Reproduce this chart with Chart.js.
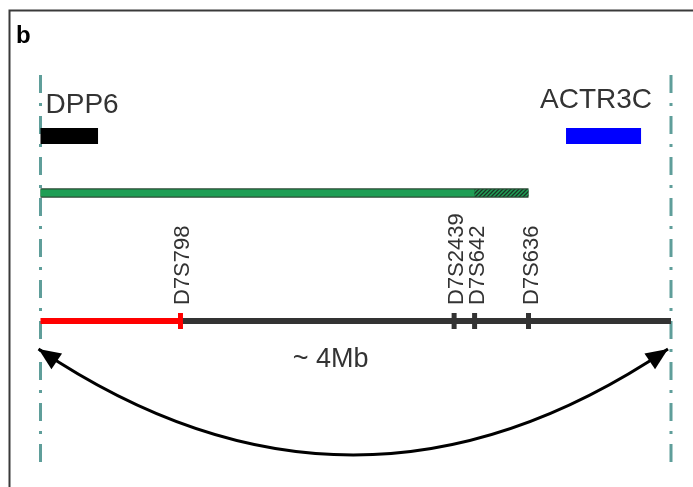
<!DOCTYPE html>
<html lang="en">
<head>
<meta charset="UTF-8">
<title>DPP6 - ACTR3C region</title>
<script src="https://cdn.jsdelivr.net/npm/chart.js"></script>
<style>
  html, body { margin: 0; padding: 0; background: #fff; }
  canvas { display: block; }
</style>
</head>
<body>
<canvas id="map" width="693" height="487"></canvas>
<script>
// positions in Mb along the region (0 = DPP6 side, 4 = ACTR3C side)
const regionStart = 0;
const regionEnd = 4;
const spanLabel = '~ 4Mb';
const spanLabelPos = 1.84;

const geneNames = ['DPP6', 'ACTR3C'];
const geneStart = [0, 3.334];
const geneEnd = [0.365, 3.81];

const markerNames = ['D7S798', 'D7S2439', 'D7S642', 'D7S636'];
const markerPos = [0.888, 2.624, 2.754, 3.096];

// deletion: solid up to D7S642, uncertain (hatched) up to D7S636
const delStart = regionStart;
const delSolidEnd = markerPos[2];
const delEnd = markerPos[3];
// red part of the map ends at D7S798
const redEnd = markerPos[0];

// rows, in canvas px from the top
const ROW = { gene: 136, del: 193, map: 321, arrow: 349, arrowLow: 455, guideTop: 75, guideBottom: 463 };

const FONT = '"Liberation Sans", Arial, Helvetica, sans-serif';
const red = '#ff0000';
const dark = '#333333';
const green = '#1e9e55';
const teal = '#5f9e9a';
const geneColors = ['#000000', '#0000ff'];

function hatch() {
  const c = document.createElement('canvas');
  c.width = 4; c.height = 4;
  const g = c.getContext('2d');
  g.fillStyle = green;
  g.fillRect(0, 0, 4, 4);
  g.strokeStyle = '#1b3324';
  g.lineWidth = 1.3;
  g.beginPath();
  g.moveTo(0, 4); g.lineTo(4, 0);
  g.moveTo(-1, 1); g.lineTo(1, -1);
  g.moveTo(3, 5); g.lineTo(5, 3);
  g.stroke();
  return g.createPattern(c, 'repeat');
}

const seg = (x0, x1, y) => [{ x: x0, y: y }, { x: x1, y: y }];
const line = (data, color, width, order, extra) => Object.assign({
  data: data, borderColor: color, borderWidth: width, showLine: true,
  pointRadius: 0, fill: false, clip: false, order: order, borderCapStyle: 'butt'
}, extra || {});

const datasets = [
  // marker ticks on the map line
  {
    data: markerPos.map(p => ({ x: p, y: ROW.map })),
    showLine: false, pointStyle: 'line', pointRotation: 90, pointRadius: 8,
    pointBorderWidth: 5, pointBorderColor: markerPos.map((p, i) => i === 0 ? red : dark),
    clip: false, order: 0
  },
  line(seg(regionStart, redEnd, ROW.map), red, 6, 1),
  line(seg(redEnd, regionEnd, ROW.map), dark, 6, 2),
  line(seg(delSolidEnd, delEnd, ROW.del), hatch(), 7, 3),
  line(seg(delStart, delSolidEnd, ROW.del), green, 7, 3),
  line(seg(delStart, delEnd, ROW.del), '#2a4a35', 9.5, 4),
  line(seg(geneStart[0], geneEnd[0], ROW.gene), geneColors[0], 16, 5),
  line(seg(geneStart[1], geneEnd[1], ROW.gene), geneColors[1], 16, 5),
  line([{ x: regionStart, y: ROW.guideTop }, { x: regionStart, y: ROW.guideBottom }], teal, 3, 6, { borderDash: [18, 10, 3, 10] }),
  line([{ x: regionEnd, y: ROW.guideTop }, { x: regionEnd, y: ROW.guideBottom }], teal, 3, 6, { borderDash: [18, 10, 3, 10] })
];

const overlay = {
  id: 'overlay',
  afterDatasetsDraw(chart) {
    const ctx = chart.ctx, xs = chart.scales.x, ys = chart.scales.y;
    ctx.save();

    // panel frame
    ctx.strokeStyle = '#3a3a3a';
    ctx.lineWidth = 2;
    ctx.beginPath();
    ctx.moveTo(9.5, 487); ctx.lineTo(9.5, 10.5); ctx.lineTo(693, 10.5);
    ctx.stroke();

    ctx.fillStyle = '#000';
    ctx.font = 'bold 24px ' + FONT;
    ctx.textBaseline = 'alphabetic';
    ctx.textAlign = 'left';
    ctx.fillText('b', 16, 43);

    // gene names
    ctx.fillStyle = dark;
    ctx.font = '28px ' + FONT;
    ctx.textAlign = 'left';
    ctx.fillText(geneNames[0], xs.getPixelForValue(geneStart[0]) + 5, 113);
    ctx.textAlign = 'right';
    ctx.fillText(geneNames[1], xs.getPixelForValue(geneEnd[1]) + 11, 108);

    // marker names, rotated
    ctx.font = '22px ' + FONT;
    ctx.textAlign = 'left';
    markerNames.forEach((n, i) => {
      const x = xs.getPixelForValue(markerPos[i]);
      ctx.save();
      ctx.translate(x + 9, 305);
      ctx.rotate(-Math.PI / 2);
      ctx.fillText(n, 0, 0);
      ctx.restore();
    });

    // span label
    ctx.font = '27px ' + FONT;
    ctx.textAlign = 'center';
    ctx.fillText(spanLabel, xs.getPixelForValue(spanLabelPos), 367);

    // double headed curved arrow
    const x0 = xs.getPixelForValue(regionStart) - 2;
    const x1 = xs.getPixelForValue(regionEnd) - 3;
    const y0 = ys.getPixelForValue(ROW.arrow);
    const yb = ys.getPixelForValue(ROW.arrowLow);
    const cx = (x0 + x1) / 2, cy = 2 * yb - y0;
    ctx.strokeStyle = '#000';
    ctx.fillStyle = '#000';
    ctx.lineWidth = 3;
    ctx.beginPath();
    ctx.moveTo(x0, y0);
    ctx.quadraticCurveTo(cx, cy, x1, y0);
    ctx.stroke();
    const head = (tx, ty, ang) => {
      const L = 22, W = 9.5;
      const bx = tx + L * Math.cos(ang), by = ty + L * Math.sin(ang);
      const px = -Math.sin(ang) * W, py = Math.cos(ang) * W;
      ctx.beginPath();
      ctx.moveTo(tx, ty);
      ctx.lineTo(bx + px, by + py);
      ctx.lineTo(bx - px, by - py);
      ctx.closePath();
      ctx.fill();
    };
    head(x0, y0, Math.atan2(cy - y0, cx - x0));
    head(x1, y0, Math.atan2(cy - y0, cx - x1));

    ctx.restore();
  }
};

// x: 0 Mb at 40.5 px, 4 Mb at 671 px
const pxPerMb = 630.5 / 4;
const xMin = -40.5 / pxPerMb;
const xMax = xMin + 693 / pxPerMb;

new Chart(document.getElementById('map').getContext('2d'), {
  type: 'scatter',
  data: { datasets: datasets },
  options: {
    responsive: false,
    animation: false,
    devicePixelRatio: 1,
    events: [],
    layout: { padding: 0, autoPadding: false },
    plugins: { legend: { display: false }, tooltip: { enabled: false } },
    scales: {
      x: { type: 'linear', min: xMin, max: xMax, display: false },
      y: { type: 'linear', min: 0, max: 487, reverse: true, display: false }
    }
  },
  plugins: [overlay]
});
</script>
</body>
</html>
